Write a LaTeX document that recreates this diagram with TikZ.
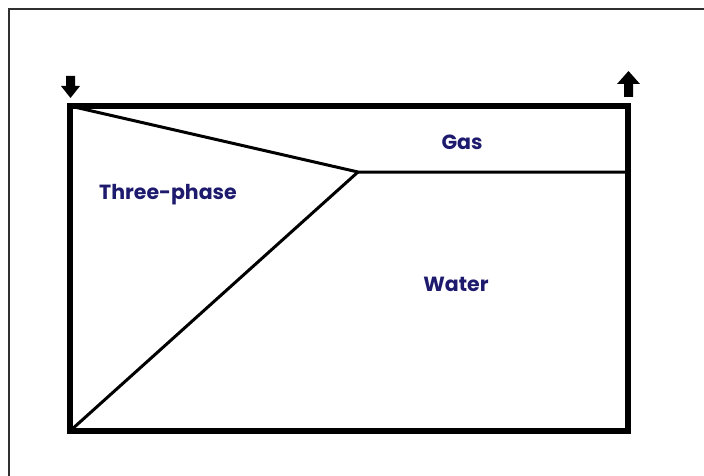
\documentclass[tikz,border=0pt]{standalone}
\usepackage{fontspec}
\setmainfont{Poppins}
\definecolor{labelblue}{HTML}{1E1B6E}
\definecolor{framegray}{HTML}{303030}
\begin{document}
\begin{tikzpicture}[x=1pt,y=-1pt,
  vessel/.style={line width=6pt,line join=miter},
  boundary/.style={line width=3pt},
  flowarrow/.style={fill=black,draw=none},
  phase/.style={font=\fontsize{20.5}{24}\selectfont\bfseries,text=labelblue}]
  \useasboundingbox (0,0) rectangle (704,476);
  \fill[white] (0,0) rectangle (704,476);
  % outer frame: only its top and left sides fall inside the page
  \coordinate (frametr) at (704,9);
  \coordinate (frametl) at (9,9);
  \coordinate (framebl) at (9,476);
  \draw[framegray,line width=2pt] (frametr) -- (frametl) -- (framebl);
  % vessel corners
  \coordinate (tl) at (70,106);
  \coordinate (tr) at (628,106);
  \coordinate (br) at (628,431);
  \coordinate (bl) at (70,431);
  \coordinate (junction) at (358,172);
  \coordinate (gasend) at (625,172);
  % interfaces between the phases
  \draw[boundary] (tl) -- (junction) -- (gasend);
  \draw[boundary] (bl) -- (junction);
  % vessel
  \draw[vessel] (tl) -- (tr) -- (br) -- (bl) -- cycle;
  % inlet arrow (down) and outlet arrow (up)
  \fill[flowarrow] (66,76) -- (75,76) -- (75,86) -- (80,86) -- (70.5,98) -- (61,86) -- (66,86) -- cycle;
  \fill[flowarrow] (624,97) -- (633,97) -- (633,84) -- (640,84) -- (628.5,71) -- (617,84) -- (624,84) -- cycle;
  % phase labels
  \node[phase] (three) at (168,195) {Three-phase};
  \node[phase] (gas) at (462,142) {Gas};
  \node[phase] (water) at (456,284) {Water};
\end{tikzpicture}
\end{document}
